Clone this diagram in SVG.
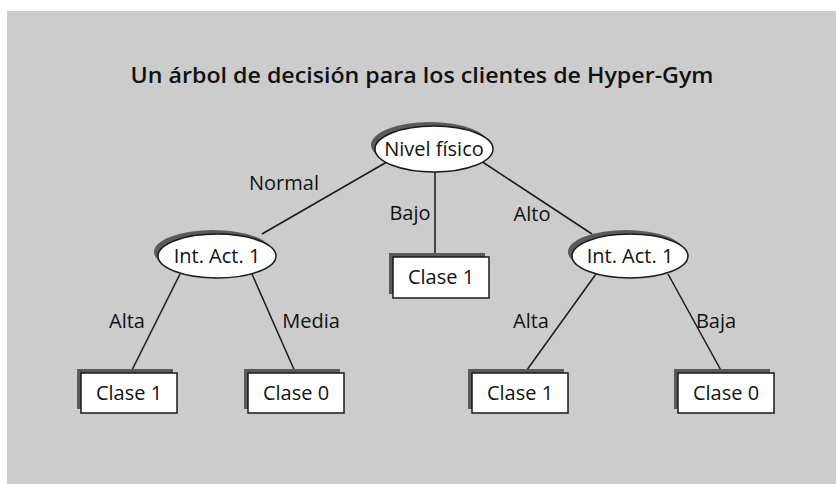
<svg xmlns="http://www.w3.org/2000/svg" width="836" height="484" viewBox="0 0 836 484">
<style>
.bg{fill:#cccccc}
.shadow{fill:#5a5a5a}
.node{fill:#ffffff;stroke:#1a1a1a;stroke-width:1.5}
.edge{stroke:#1a1a1a;stroke-width:1.5;fill:none}
text{font-family:"Open Sans","Noto Sans","Liberation Sans",sans-serif;fill:#111}
.t{font-size:20px;text-anchor:middle}
.lbl{font-size:20px;text-anchor:middle}
.title{font-size:21px;font-weight:600;text-anchor:middle}
</style>
<rect class="bg" x="7" y="11" width="829" height="473"/>
<text class="title" x="422" y="83" textLength="583" lengthAdjust="spacingAndGlyphs">Un árbol de decisión para los clientes de Hyper-Gym</text>
<g id="connectors">
<line class="edge" x1="392" y1="159" x2="262" y2="234"/>
<line class="edge" x1="435" y1="170" x2="435" y2="258"/>
<line class="edge" x1="478" y1="159" x2="592" y2="234"/>
<line class="edge" x1="180" y1="274" x2="130" y2="374"/>
<line class="edge" x1="252" y1="274" x2="296" y2="374"/>
<line class="edge" x1="596" y1="274" x2="524" y2="374"/>
<line class="edge" x1="668" y1="274" x2="723" y2="374"/>
</g>
<g id="labels">
<text class="lbl" x="284" y="190">Normal</text>
<text class="lbl" x="410" y="220">Bajo</text>
<text class="lbl" x="532" y="221">Alto</text>
<text class="lbl" x="127" y="328">Alta</text>
<text class="lbl" x="311" y="328">Media</text>
<text class="lbl" x="531" y="328">Alta</text>
<text class="lbl" x="716" y="328">Baja</text>
</g>
<g id="n-root">
<ellipse class="shadow" cx="430" cy="145" rx="59" ry="23"/>
<ellipse class="node" cx="434" cy="149" rx="59" ry="23"/>
<text class="t" x="434" y="156">Nivel físico</text>
</g>
<g id="n-left">
<ellipse class="shadow" cx="213" cy="252" rx="59" ry="22"/>
<ellipse class="node" cx="217" cy="256" rx="59" ry="22"/>
<text class="t" x="217" y="263">Int. Act. 1</text>
</g>
<g id="n-right">
<ellipse class="shadow" cx="626" cy="252" rx="58" ry="22"/>
<ellipse class="node" cx="630" cy="256" rx="58" ry="22"/>
<text class="t" x="630" y="263">Int. Act. 1</text>
</g>
<g id="n-mid">
<rect class="shadow" x="389" y="253" width="96" height="41"/>
<rect class="node" x="393" y="257" width="96" height="41"/>
<text class="t" x="441" y="284">Clase 1</text>
</g>
<g id="n-ll">
<rect class="shadow" x="77" y="369" width="96" height="40"/>
<rect class="node" x="81" y="373" width="96" height="40"/>
<text class="t" x="129" y="400">Clase 1</text>
</g>
<g id="n-lr">
<rect class="shadow" x="244" y="369" width="96" height="40"/>
<rect class="node" x="248" y="373" width="96" height="40"/>
<text class="t" x="296" y="400">Clase 0</text>
</g>
<g id="n-rl">
<rect class="shadow" x="468" y="369" width="96" height="40"/>
<rect class="node" x="472" y="373" width="96" height="40"/>
<text class="t" x="520" y="400">Clase 1</text>
</g>
<g id="n-rr">
<rect class="shadow" x="674" y="369" width="96" height="40"/>
<rect class="node" x="678" y="373" width="96" height="40"/>
<text class="t" x="726" y="400">Clase 0</text>
</g>
</svg>
